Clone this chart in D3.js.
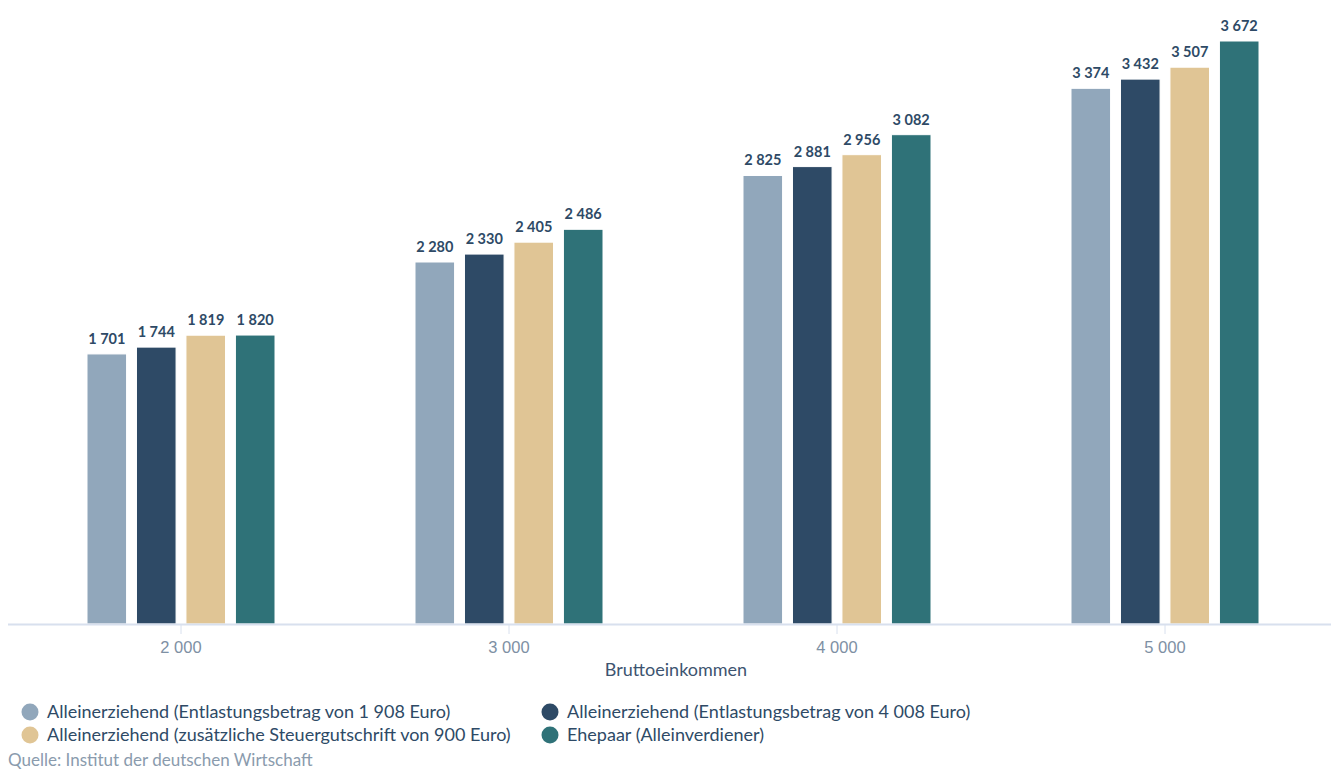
<!DOCTYPE html>
<html>
<head>
<meta charset="utf-8">
<script src="https://cdn.jsdelivr.net/npm/d3@7"></script>
<style>
  html, body { margin: 0; padding: 0; background: #fff; }
  svg { display: block; font-family: "Source Sans Pro", Lato, "Noto Sans", sans-serif; }
</style>
</head>
<body>
<svg id="chart" width="1331" height="772"></svg>
<script>
// ========= Data =========
const categories = ["2 000", "3 000", "4 000", "5 000"];
const seriesNames = [
  "Alleinerziehend (Entlastungsbetrag von 1 908 Euro)",
  "Alleinerziehend (Entlastungsbetrag von 4 008 Euro)",
  "Alleinerziehend (zusätzliche Steuergutschrift von 900 Euro)",
  "Ehepaar (Alleinverdiener)"
];
const seriesColors = ["#91a7bb", "#2e4a66", "#e0c595", "#2f7278"];
const entlastung1908 = [1701, 2280, 2825, 3374];
const entlastung4008 = [1744, 2330, 2881, 3432];
const steuergutschrift = [1819, 2405, 2956, 3507];
const ehepaar = [1820, 2486, 3082, 3672];
const seriesValues = [entlastung1908, entlastung4008, steuergutschrift, ehepaar];

const fmt = v => d3.format(",")(v).replace(/,/g, " ");

// ========= Layout =========
const svg = d3.select("#chart");
const baseY = 624;

const x = d3.scaleBand()
  .domain(categories)
  .range([17, 1329]);

const xInner = d3.scaleBand()
  .domain(d3.range(seriesNames.length))
  .range([x.bandwidth() / 2 - 94, x.bandwidth() / 2 + 94])
  .paddingInner(0.2);

const y = d3.scaleLinear()
  .domain([0, 3672])
  .range([baseY, 41]);

// ========= Bars =========
const groups = svg.append("g")
  .selectAll("g")
  .data(categories)
  .join("g")
  .attr("transform", c => `translate(${x(c)},0)`);

groups.selectAll("rect")
  .data((c, ci) => seriesValues.map((s, si) => ({ si, v: s[ci] })))
  .join("rect")
  .attr("x", d => xInner(d.si))
  .attr("y", d => y(d.v))
  .attr("width", xInner.bandwidth())
  .attr("height", d => baseY - y(d.v))
  .attr("fill", d => seriesColors[d.si])
  .attr("stroke", "#fff")
  .attr("stroke-width", 1);

groups.selectAll("text")
  .data((c, ci) => seriesValues.map((s, si) => ({ si, v: s[ci] })))
  .join("text")
  .attr("x", d => xInner(d.si) + xInner.bandwidth() / 2)
  .attr("y", d => y(d.v) - 10)
  .attr("text-anchor", "middle")
  .attr("font-size", 14.5)
  .attr("font-weight", 700)
  .attr("fill", "#2e4a66")
  .text(d => fmt(d.v));

// ========= X axis =========
svg.append("line")
  .attr("x1", 8).attr("x2", 1331)
  .attr("y1", baseY + 0.5).attr("y2", baseY + 0.5)
  .attr("stroke", "#d8e0ee")
  .attr("stroke-width", 2);

const xAxis = svg.append("g")
  .attr("transform", `translate(0,${baseY + 1})`)
  .call(d3.axisBottom(x).tickSize(9).tickPadding(7));
xAxis.select(".domain").remove();
xAxis.selectAll(".tick line").attr("stroke", "#d8e0ee");
xAxis.selectAll(".tick text")
  .attr("font-family", null)
  .attr("font-size", 16.5)
  .attr("fill", "#7e90a4");

svg.append("text")
  .attr("x", 676)
  .attr("y", 676)
  .attr("text-anchor", "middle")
  .attr("font-size", 18)
  .attr("fill", "#3d5470")
  .text("Bruttoeinkommen");

// ========= Legend =========
const legendPos = [
  { cx: 30, cy: 712 },
  { cx: 550, cy: 712 },
  { cx: 30, cy: 735 },
  { cx: 550, cy: 735 }
];
const legend = svg.append("g")
  .selectAll("g")
  .data(seriesNames)
  .join("g")
  .attr("transform", (d, i) => `translate(${legendPos[i].cx},${legendPos[i].cy})`);

legend.append("circle")
  .attr("r", 8.5)
  .attr("fill", (d, i) => seriesColors[i]);

legend.append("text")
  .attr("x", 17)
  .attr("dy", "0.35em")
  .attr("font-size", 18)
  .attr("fill", "#2e4a66")
  .text(d => d);

// ========= Source =========
svg.append("text")
  .attr("x", 8)
  .attr("y", 766)
  .attr("font-size", 17)
  .attr("fill", "#8a9bad")
  .text("Quelle: Institut der deutschen Wirtschaft");
</script>
</body>
</html>
